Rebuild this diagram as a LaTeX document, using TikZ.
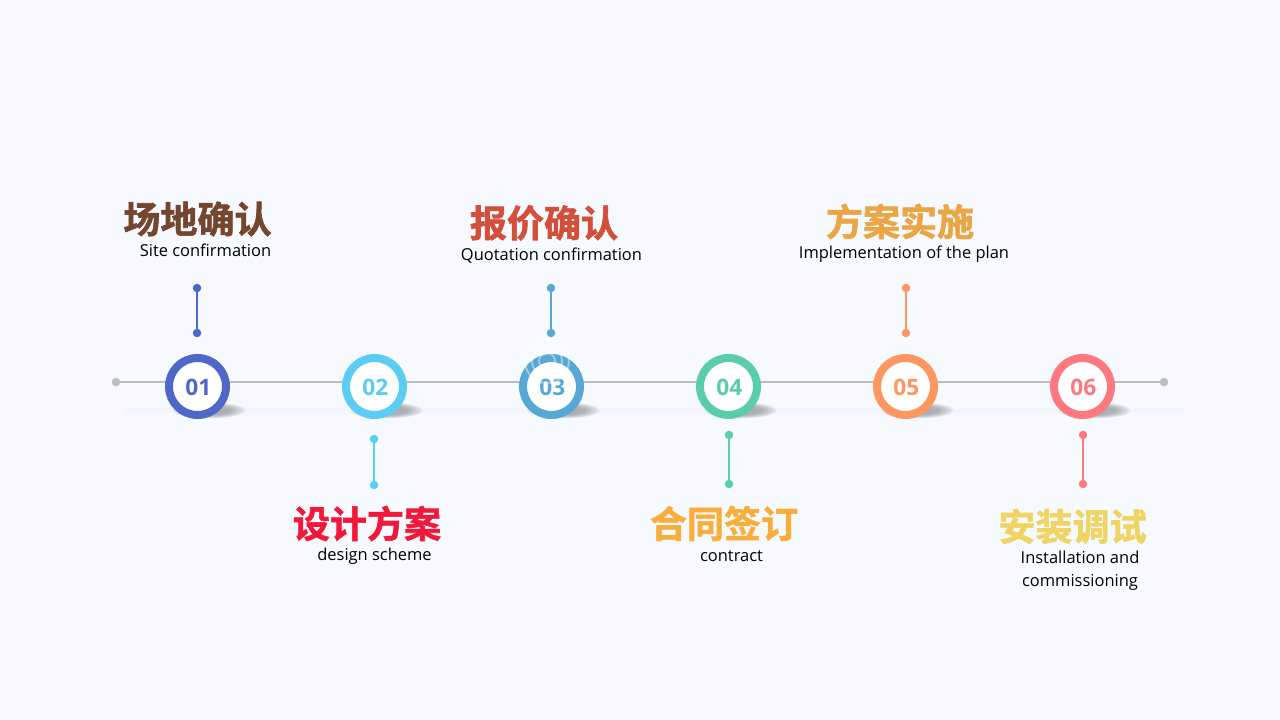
\documentclass[tikz,border=0pt]{standalone}
\usepackage{fontspec}
\setmainfont{Open Sans}
\newfontfamily\cjk{Noto Sans CJK SC Bold}[FakeBold=1.6]
\usetikzlibrary{shadings,fadings}
\definecolor{bgc}{HTML}{F6FAFF}
\definecolor{cA}{HTML}{4F67C9}
\definecolor{cB}{HTML}{5BCDF4}
\definecolor{cC}{HTML}{58A8D5}
\definecolor{cD}{HTML}{5BCDAB}
\definecolor{cE}{HTML}{FE9660}
\definecolor{cF}{HTML}{FE7880}
\definecolor{tA}{HTML}{74452F}
\definecolor{tB}{HTML}{F3183A}
\definecolor{tC}{HTML}{D14F3B}
\definecolor{tD}{HTML}{F9AE3C}
\definecolor{tE}{HTML}{EBA545}
\definecolor{tF}{HTML}{EFD464}
\definecolor{linec}{HTML}{BDBDBD}
\pgfdeclareradialshading{shadowball}{\pgfpointorigin}{%
  color(0bp)=(black!32!bgc); color(14bp)=(black!29!bgc); color(21bp)=(black!13!bgc); color(25bp)=(bgc); color(50bp)=(bgc)}
\newcommand{\numt}[1]{\hspace*{1.2pt}\raisebox{-0.8pt}[\height][\depth]{#1}}
\tikzset{
  x=0.75pt,y=-0.75pt,
  ring/.style={circle,draw=#1,line width=6pt,fill=white,minimum size=42.75pt,inner sep=0pt,
    text=#1,font=\bfseries\fontsize{17}{17}\selectfont},
  dotn/.style={circle,fill=#1,minimum size=6.4pt,inner sep=0pt},
  stem/.style={draw=#1,line width=1.5pt,shorten >=-1pt,shorten <=-1pt},
  ttl/.style={text=#1,font=\cjk\fontsize{27.8}{30}\selectfont,inner sep=0pt},
  sub/.style={text=black,font=\fontsize{12.35}{17.25}\selectfont,inner sep=0pt,align=center},
  wm/.style={draw=white,line width=1.5pt,opacity=0.4},
}
\begin{document}
\begin{tikzpicture}
\useasboundingbox (0,0) rectangle (1280,720);
\fill[bgc] (0,0) rectangle (1280,720);
% faint floor band
\shade[top color=bgc,bottom color=bgc,middle color=black!1.5!bgc] (125,405) rectangle (1183,415);
% baseline
\node[dotn=linec] (la) at (116,382) {};
\node[dotn=linec] (lb) at (1164,382) {};
\draw[stem=linec] (la) -- (lb);
% shadows
\foreach \cx in {209,386,563,740,917,1094}{
  \begin{scope}[shift={(\cx,410)},yscale=0.22]
    \shade[shading=shadowball] (0,0) circle[radius=38];
  \end{scope}}
% rings
\node[ring=cA] (n1) at (197.5,386.5) {\numt{01}};
\node[ring=cB] (n2) at (374.5,386.5) {\numt{02}};
\node[ring=cC] (n3) at (551.5,386.5) {\numt{03}};
\node[ring=cD] (n4) at (728.5,386.5) {\numt{04}};
\node[ring=cE] (n5) at (905.5,386.5) {\numt{05}};
\node[ring=cF] (n6) at (1082.5,386.5) {\numt{06}};
% stems
\node[dotn=cA] (a1) at (197,288) {}; \node[dotn=cA] (a2) at (197,333) {};
\node[dotn=cB] (b1) at (374,439) {}; \node[dotn=cB] (b2) at (374,485) {};
\node[dotn=cC] (c1) at (551,288) {}; \node[dotn=cC] (c2) at (551,333) {};
\node[dotn=cD] (d1) at (729,435) {}; \node[dotn=cD] (d2) at (729,484) {};
\node[dotn=cE] (e1) at (906,288) {}; \node[dotn=cE] (e2) at (906,333) {};
\node[dotn=cF] (f1) at (1083,435) {}; \node[dotn=cF] (f2) at (1083,484) {};
\draw[stem=cA] (a1) -- (a2);
\draw[stem=cB] (b1) -- (b2);
\draw[stem=cC] (c1) -- (c2);
\draw[stem=cD] (d1) -- (d2);
\draw[stem=cE] (e1) -- (e2);
\draw[stem=cF] (f1) -- (f2);
% faint watermark emblem over ring 03
\draw[wm] (547,361) circle[radius=8];
\draw[wm] (547,361) circle[radius=15];
\draw[wm] (547,361) circle[radius=22];
% titles
\node[ttl=tA] (t1) at (197.5,219) {场地确认};
\node[ttl=tB] (t2) at (367,523.5) {设计方案};
\node[ttl=tC] (t3) at (544,223) {报价确认};
\node[ttl=tD] (t4) at (724,523.5) {合同签订};
\node[ttl=tE] (t5) at (900,221.5) {方案实施};
\node[ttl=tF] (t6) at (1072.5,526.5) {安装调试};
% subtitles
\node[sub] (s1) at (205.5,250) {Site confirmation};
\node[sub] (s2) at (374.5,556) {design scheme};
\node[sub] (s3) at (551.5,255.5) {Quotation confirmation};
\node[sub] (s4) at (731.5,556) {contract};
\node[sub] (s5) at (904,254) {Implementation of the plan};
\node[sub] (s6) at (1080,570.5) {Installation and\\commissioning};
\end{tikzpicture}
\end{document}
